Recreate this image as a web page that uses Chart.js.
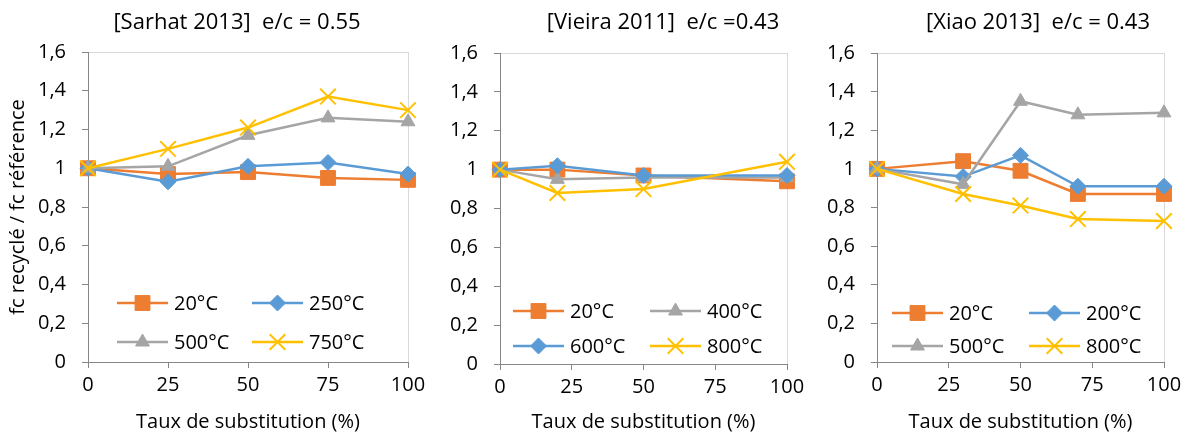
<!DOCTYPE html>
<html>
<head>
<meta charset="utf-8">
<script src="https://cdn.jsdelivr.net/npm/chart.js@4.4.1/dist/chart.umd.min.js"></script>
<style>
  body { margin: 0; background: #fff; }
  #wrap { position: relative; width: 1190px; height: 437px; }
  canvas { position: absolute; top: 0; }
</style>
</head>
<body>
<div id="wrap">
  <canvas id="c1" width="425" height="437" style="left:0"></canvas>
  <canvas id="c2" width="380" height="437" style="left:425px"></canvas>
  <canvas id="c3" width="385" height="437" style="left:805px"></canvas>
</div>
<script>
// tick labels
const xTicks = ['0', '25', '50', '75', '100'];
const yTicks = ['0', '0,2', '0,4', '0,6', '0,8', '1', '1,2', '1,4', '1,6'];

// [Sarhat 2013]  e/c = 0.55
const sarhatX = [0, 25, 50, 75, 100];
const sarhatLabels = ['20°C', '250°C', '500°C', '750°C'];
const sarhat20 = [1, 0.97, 0.98, 0.95, 0.94];
const sarhat250 = [1, 0.93, 1.01, 1.03, 0.97];
const sarhat500 = [1, 1.01, 1.17, 1.26, 1.24];
const sarhat750 = [1, 1.10, 1.21, 1.37, 1.30];

// [Vieira 2011]  e/c = 0.43
const vieiraX = [0, 20, 50, 100];
const vieiraLabels = ['20°C', '400°C', '600°C', '800°C'];
const vieira20 = [1, 1.00, 0.97, 0.94];
const vieira400 = [1, 0.95, 0.96, 0.96];
const vieira600 = [1, 1.02, 0.97, 0.97];
const vieira800 = [1, 0.88, 0.90, 1.04];

// [Xiao 2013]  e/c = 0.43
const xiaoX = [0, 30, 50, 70, 100];
const xiaoLabels = ['20°C', '200°C', '500°C', '800°C'];
const xiao20 = [1, 1.04, 0.99, 0.87, 0.87];
const xiao200 = [1, 0.96, 1.07, 0.91, 0.91];
const xiao500 = [1, 0.92, 1.35, 1.28, 1.29];
const xiao800 = [1, 0.87, 0.81, 0.74, 0.73];

const FONT = '"Open Sans", sans-serif';
const FSIZE = 20;

const styles = {
  orange: { color: '#ED7D31', pointStyle: 'rect', radius: 10.5, bw: 1 },
  blue:   { color: '#5B9BD5', pointStyle: 'rectRot', radius: 8, bw: 1 },
  gray:   { color: '#A5A5A5', pointStyle: 'triangle', radius: 8, bw: 1 },
  yellow: { color: '#FFC000', pointStyle: 'crossRot', radius: 11, bw: 2 }
};

// light frame around the plot area (top/right show through)
const plotFrame = {
  id: 'plotFrame',
  beforeDraw(chart) {
    const { ctx, chartArea: a } = chart;
    ctx.save();
    ctx.strokeStyle = '#D9D9D9';
    ctx.lineWidth = 1;
    ctx.strokeRect(Math.round(a.left) + 0.5, Math.round(a.top) + 0.5,
      Math.round(a.right - a.left), Math.round(a.bottom - a.top));
    ctx.restore();
  }
};

const panelTitle = {
  id: 'panelTitle',
  afterDraw(chart, args, opts) {
    const ctx = chart.ctx;
    ctx.save();
    ctx.font = '22px ' + FONT;
    ctx.fillStyle = '#000';
    ctx.textAlign = 'center';
    ctx.textBaseline = 'middle';
    ctx.fillText(opts.text, opts.x, opts.y);
    ctx.restore();
  }
};

// legend drawn inside the plot, 2 columns
const legendInside = {
  id: 'legendInside',
  afterDraw(chart, args, opts) {
    const ctx = chart.ctx;
    const a = chart.chartArea;
    ctx.save();
    chart.data.datasets.forEach((ds, i) => {
      const x = a.left + opts.left + (i % 2) * opts.colGap;
      const y = opts.top + Math.floor(i / 2) * opts.rowGap;
      ctx.strokeStyle = ds.borderColor;
      ctx.lineWidth = ds.borderWidth;
      ctx.beginPath();
      ctx.moveTo(x, y);
      ctx.lineTo(x + opts.lineLen, y);
      ctx.stroke();
      ctx.fillStyle = ds.pointBackgroundColor;
      ctx.strokeStyle = ds.pointBorderColor;
      ctx.lineWidth = ds.pointBorderWidth;
      Chart.helpers.drawPoint(ctx, {
        pointStyle: ds.pointStyle, radius: ds.pointRadius,
        rotation: 0, borderWidth: ds.pointBorderWidth
      }, x + opts.lineLen / 2, y);
      ctx.fillStyle = '#000';
      ctx.font = FSIZE + 'px ' + FONT;
      ctx.textAlign = 'left';
      ctx.textBaseline = 'middle';
      ctx.fillText(ds.label, x + opts.lineLen + 6, y + 1);
    });
    ctx.restore();
  }
};

function makeChart(id, xs, labels, series, colors, o) {
  const datasets = series.map((vals, i) => {
    const s = styles[colors[i]];
    return {
      label: labels[i],
      data: vals.map((v, j) => ({ x: xs[j], y: v })),
      borderColor: s.color,
      backgroundColor: s.color,
      borderWidth: 2.5,
      pointStyle: s.pointStyle,
      pointRadius: s.radius,
      pointHoverRadius: s.radius,
      pointBackgroundColor: s.color,
      pointBorderColor: s.color,
      pointBorderWidth: s.bw,
      tension: 0,
      clip: false,
      order: series.length - i
    };
  });

  return new Chart(document.getElementById(id), {
    type: 'line',
    data: { datasets },
    options: {
      responsive: false,
      animation: false,
      layout: { padding: { top: o.top, right: o.padRight, left: 0, bottom: 0 } },
      plugins: {
        legend: { display: false },
        tooltip: { enabled: false },
        panelTitle: { text: o.title, x: o.titleX, y: 23 },
        legendInside: o.legend
      },
      scales: {
        x: {
          type: 'linear',
          min: 0, max: 100,
          afterFit: s => {
            s.height = o.xHeight;
            s.paddingLeft = 0;
            s.paddingRight = 0;
          },
          ticks: {
            stepSize: 25, padding: 5, color: '#000',
            font: { family: FONT, size: FSIZE },
            maxRotation: 0,
            callback: v => xTicks[Math.round(v / 25)]
          },
          grid: { drawOnChartArea: false, tickLength: 6, color: '#868686' },
          border: { color: '#868686' },
          title: {
            display: true, text: 'Taux de substitution (%)', color: '#000',
            font: { family: FONT, size: FSIZE }, padding: { top: 4, bottom: 3 }
          }
        },
        y: {
          min: 0, max: 1.6,
          afterFit: s => { s.width = o.yWidth; },
          ticks: {
            stepSize: 0.2, padding: 16, color: '#000',
            font: { family: FONT, size: FSIZE },
            callback: v => yTicks[Math.round(v / 0.2)]
          },
          grid: { drawOnChartArea: false, tickLength: 6, color: '#868686' },
          border: { color: '#868686' },
          title: {
            display: o.yTitle, text: 'fc recyclé / fc référence', color: '#000',
            font: { family: FONT, size: FSIZE }, padding: { top: 6, bottom: 0 }
          }
        }
      }
    },
    plugins: [plotFrame, panelTitle, legendInside]
  });
}

makeChart('c1', sarhatX, sarhatLabels,
  [sarhat20, sarhat250, sarhat500, sarhat750],
  ['orange', 'blue', 'gray', 'yellow'],
  { title: '[Sarhat 2013]  e/c = 0.55', titleX: 237, top: 52, padRight: 17,
    xHeight: 75, yWidth: 88, yTitle: true,
    legend: { left: 29, top: 303, colGap: 135, rowGap: 39, lineLen: 51 } });

makeChart('c2', vieiraX, vieiraLabels,
  [vieira20, vieira400, vieira600, vieira800],
  ['orange', 'gray', 'blue', 'yellow'],
  { title: '[Vieira 2011]  e/c =0.43', titleX: 238, top: 53, padRight: 18,
    xHeight: 73, yWidth: 75, yTitle: false,
    legend: { left: 13, top: 311, colGap: 137, rowGap: 35, lineLen: 51 } });

makeChart('c3', xiaoX, xiaoLabels,
  [xiao20, xiao200, xiao500, xiao800],
  ['orange', 'blue', 'gray', 'yellow'],
  { title: '[Xiao 2013]  e/c = 0.43', titleX: 233, top: 53, padRight: 26,
    xHeight: 75, yWidth: 72, yTitle: false,
    legend: { left: 15, top: 313, colGap: 137, rowGap: 33, lineLen: 51 } });
</script>
</body>
</html>
